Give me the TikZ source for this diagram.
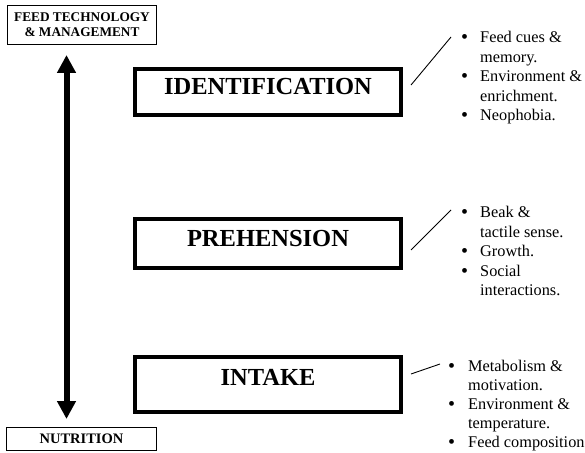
\documentclass[tikz,border=0pt]{standalone}
\usepackage{fontspec}
\setmainfont{Liberation Serif}
\usetikzlibrary{arrows.meta}
\newcommand{\bigbul}{\smash{\raisebox{-1bp}{\fontsize{20bp}{20bp}\selectfont\textbullet}}}
\begin{document}
\begin{tikzpicture}[x=1bp,y=-1bp,
  mainbox/.style={draw, line width=4bp, inner sep=0pt, minimum width=266bp,
    font=\bfseries\fontsize{24.5bp}{28bp}\selectfont, text height=17bp},
  thinbox/.style={draw, line width=1bp, inner sep=0pt, minimum width=149bp,
    font=\bfseries\fontsize{13.3bp}{15bp}\selectfont, align=center},
  list/.style={font=\fontsize{16.3bp}{19.4bp}\selectfont, anchor=base west, inner sep=0pt},
  link/.style={line width=0.9bp},
  bigarrow/.style={line width=6bp, {Triangle[length=18bp,width=18bp]}-{Triangle[length=18bp,width=18bp]}}]
\useasboundingbox (0,0) rectangle (585,453);

% left column
\node[thinbox, minimum height=39bp] (feed) at (82,25) {FEED TECHNOLOGY\\\& MANAGEMENT};
\node[thinbox, minimum height=23bp, font=\bfseries\fontsize{14.5bp}{16bp}\selectfont] (nutr) at (81.5,438.5) {NUTRITION};
\coordinate (atop) at (66.5,55);
\coordinate (abot) at (66.5,419);
\draw[bigarrow] (atop) -- (abot);

% main boxes
\node[mainbox, minimum height=46bp, text depth=11bp] (ident) at (268,92) {IDENTIFICATION};
\node[mainbox, minimum height=49bp, text depth=10bp] (preh) at (268,243.5) {PREHENSION};
\node[mainbox, minimum height=55bp, text depth=16bp] (intake) at (268,384.5) {INTAKE};

% lists
\node[list] (ilist) at (461,43) {\begin{tabular}[t]{@{}l@{}l@{}}
  \makebox[19bp][l]{\bigbul} & Feed cues \&\\
  & memory.\\
  \bigbul & Environment \&\\
  & enrichment.\\
  \bigbul & Neophobia.
\end{tabular}};
\node[list] (plist) at (461,218) {\begin{tabular}[t]{@{}l@{}l@{}}
  \makebox[19bp][l]{\bigbul} & Beak \&\\
  & tactile sense.\\
  \bigbul & Growth.\\
  \bigbul & Social\\
  & interactions.
\end{tabular}};
\node[list, font=\fontsize{16.3bp}{19.2bp}\selectfont] (tlist) at (448,371) {\begin{tabular}[t]{@{}l@{}l@{}}
  \makebox[20bp][l]{\bigbul} & Metabolism \&\\
  & motivation.\\
  \bigbul & Environment \&\\
  & temperature.\\
  \bigbul & Feed composition
\end{tabular}};

% connectors
\coordinate (i1) at (411,85);  \coordinate (i2) at (451,37);
\coordinate (p1) at (411,250); \coordinate (p2) at (451,210);
\coordinate (t1) at (411,374); \coordinate (t2) at (440,364);
\draw[link] (i1) -- (i2);
\draw[link] (p1) -- (p2);
\draw[link] (t1) -- (t2);
\end{tikzpicture}
\end{document}
